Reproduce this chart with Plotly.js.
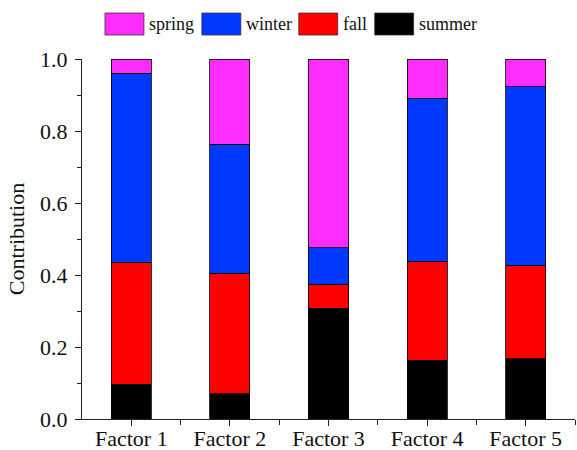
<!DOCTYPE html>
<html>
<head>
<meta charset="utf-8">
<script src="https://cdn.plot.ly/plotly-3.0.1.min.js"></script>
<style>html,body{margin:0;padding:0;background:#fff;}#chart{width:577px;height:450px;}</style>
</head>
<body>
<div id="chart"></div>
<script>
// Data
var categories = ["Factor 1", "Factor 2", "Factor 3", "Factor 4", "Factor 5"];
var summer = [0.097, 0.070, 0.307, 0.163, 0.167];
var fall   = [0.338, 0.335, 0.068, 0.274, 0.259];
var winter = [0.525, 0.358, 0.101, 0.454, 0.497];
var spring = [0.040, 0.237, 0.524, 0.109, 0.077];
var seriesNames = ["summer", "fall", "winter", "spring"];
var legendOrder = ["spring", "winter", "fall", "summer"];
var yTickVals = [0, 0.2, 0.4, 0.6, 0.8, 1.0];
var yTickText = ["0.0", "0.2", "0.4", "0.6", "0.8", "1.0"];
var boundaryTicks = [0.5, 1.5, 2.5, 3.5, 4.5];

var colors = {spring: "#ff2cff", winter: "#0038ff", fall: "#ff0000", summer: "#000000"};
var values = {summer: summer, fall: fall, winter: winter, spring: spring};
var FONT = "Liberation Serif, Times New Roman, serif";

var traces = seriesNames.map(function (n) {
  return {
    type: "bar", name: n, x: categories, y: values[n],
    marker: {color: colors[n], line: {color: "#000", width: 0.8}},
    showlegend: false, hoverinfo: "x+y+name"
  };
});

// Custom legend (large swatches like the reference)
var legX = [105, 202, 299, 375];
var shapes = [], annotations = [];
legendOrder.forEach(function (n, i) {
  shapes.push({type: "rect", xref: "paper", yref: "paper",
    x0: (legX[i] - 82) / 493.5, x1: (legX[i] + 39 - 82) / 493.5,
    y0: (419.3 - 35) / 360.3, y1: (419.3 - 13) / 360.3,
    fillcolor: colors[n], line: {color: "#333", width: 0.8}});
  annotations.push({xref: "paper", yref: "paper", x: (legX[i] + 42 - 82) / 493.5,
    y: (419.3 - 24) / 360.3, xanchor: "left", yanchor: "middle", showarrow: false,
    text: n, font: {family: FONT, size: 18, color: "#111"}});
});

var layout = {
  width: 577, height: 450,
  margin: {l: 82, r: 1.5, t: 59, b: 30.7, pad: 0},
  paper_bgcolor: "#fff", plot_bgcolor: "#fff",
  barmode: "stack", bargap: 0.594,
  font: {family: FONT, size: 21, color: "#000"},
  xaxis: {type: "category", range: [-0.5, 4.5], showgrid: false, zeroline: false,
    showline: true, linecolor: "#222", linewidth: 1,
    ticks: "outside", ticklen: 6, tickwidth: 1, tickcolor: "#222",
    ticklabelstandoff: -6,
    tickfont: {family: FONT, size: 22, color: "#111"}, fixedrange: true},
  xaxis2: {overlaying: "x", anchor: "y", side: "bottom", type: "linear", range: [-0.5, 4.5],
    showgrid: false, zeroline: false, showline: false, showticklabels: false,
    tickmode: "array", tickvals: boundaryTicks, ticks: "outside", ticklen: 5,
    tickwidth: 1, tickcolor: "#222"},
  yaxis: {range: [0, 1], showgrid: false, zeroline: false,
    showline: true, linecolor: "#222", linewidth: 1,
    tickmode: "array", tickvals: yTickVals, ticktext: yTickText,
    ticks: "outside", ticklen: 6, tickwidth: 1, tickcolor: "#222",
    minor: {dtick: 0.1, tick0: 0, ticks: "outside", ticklen: 4, tickwidth: 1, tickcolor: "#222", showgrid: false},
    ticklabelstandoff: 3,
    tickfont: {family: FONT, size: 22, color: "#111"},
    title: {text: "Contribution", font: {family: FONT, size: 22, color: "#111"}, standoff: 9},
    fixedrange: true},
  shapes: shapes,
  annotations: annotations
};

// dummy invisible trace so xaxis2 is rendered
traces.push({type: "scatter", x: [], y: [], xaxis: "x2", yaxis: "y", showlegend: false, hoverinfo: "skip"});

Plotly.newPlot("chart", traces, layout, {displayModeBar: false, staticPlot: true});
</script>
</body>
</html>
